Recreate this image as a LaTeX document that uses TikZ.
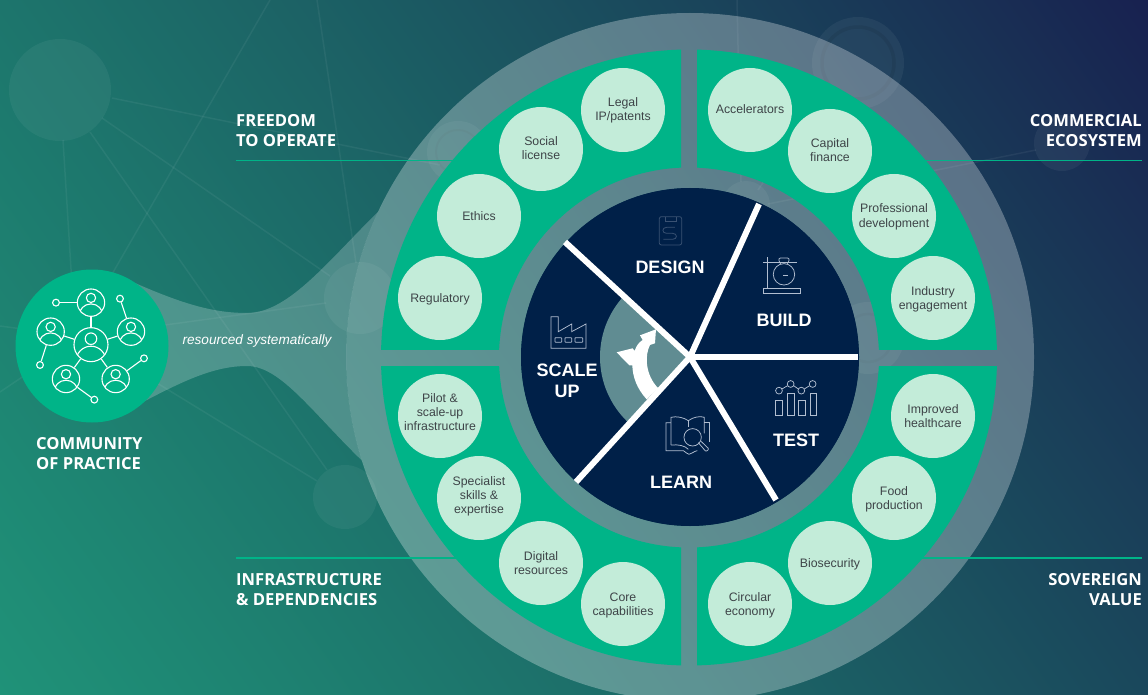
\documentclass[tikz,border=0pt]{standalone}
\usepackage{fontspec}
\setmainfont{Liberation Sans}
\newfontfamily\headfont{Open Sans}
\definecolor{mint}{RGB}{0,180,136}
\definecolor{pale}{RGB}{195,236,217}
\definecolor{navy}{RGB}{0,32,72}
\definecolor{ink}{RGB}{62,68,72}
\definecolor{wedgec}{RGB}{96,140,146}
\definecolor{iconc}{RGB}{178,190,208}
\definecolor{icondim}{RGB}{58,82,115}
\pgfdeclarefunctionalshading{bgmix}{\pgfpointorigin}{\pgfpoint{100bp}{100bp}}{}{
 25 sub 0.006 mul exch 25 sub 0.014 mul add
 dup dup 0.0275 mul neg 0.1216 add
 3 1 roll
 dup 0.1569 mul neg 0.4706 add
 3 1 roll
 dup mul 0.0902 mul exch 0.3529 mul add neg 0.5725 add
 exch
}
\newcommand\bt[2][-1.2pt]{\raisebox{#1}[\height][\depth]{\begin{tabular}{@{}c@{}}#2\end{tabular}}}
\tikzset{
 bub/.style={circle,fill=pale,minimum size=84pt,inner sep=0pt,text=ink,font=\fontsize{12.3}{14}\selectfont},
 headl/.style={align=left,anchor=west,text=white,font=\headfont\bfseries\fontsize{16.6}{20}\selectfont},
 headr/.style={align=right,anchor=east,text=white,font=\headfont\bfseries\fontsize{16.6}{20}\selectfont},
 phase/.style={align=center,text=white,font=\bfseries\fontsize{18}{21}\selectfont},
 rule/.style={draw=mint,line width=1.8pt},
 net/.style={draw=white,draw opacity=.055,line width=1.5pt},
 blob/.style={fill=white,fill opacity=.05},
 icon/.style={draw=iconc,line width=.75pt},
 dimicon/.style={draw=icondim,line width=.75pt},
 divider/.style={draw=white,line width=6pt},
 pers/.style={circle,draw=white,line width=1.1pt,inner sep=0pt},
 dot/.style={circle,draw=white,line width=1.1pt,inner sep=0pt,minimum size=6.8pt},
 tie/.style={draw=white,line width=1.1pt},
}
\newcommand\person[4]{%
 \node[pers,minimum size={#4*0.6667pt}] (#1) at (#2,#3) {};
 \draw[white,line width=1.1pt] (#2,#3-0.35*#4) circle ({#4*0.113pt});
 \begin{scope}
  \clip (#2,#3) circle ({#4*0.3333pt});
  \draw[white,line width=1.1pt] (#2,#3+0.97*#4) circle ({#4*0.293pt});
 \end{scope}
}
\begin{document}
\begin{tikzpicture}[x=1pt,y=-1pt]
\useasboundingbox (0,0) rectangle (1148,695);
\clip (0,0) rectangle (1148,695);
\shade[shading=bgmix] (0,0) rectangle (1148,695);
\coordinate (hub) at (690,357);
% background network
\draw[net] (112,98) -- (440,165);
\draw[net] (102,118) -- (330,276);
\draw[net] (63,140) -- (72,285);
\draw[net] (90,132) -- (327,470);
\draw[net] (270,0) -- (100,295);
\draw[net] (317,0) -- (356,263);
\draw[net] (0,326) -- (30,330);
\draw[net] (0,392) -- (40,365);
\draw[net] (157,383) -- (317,481);
\draw[net] (165,325) -- (326,303);
\draw[net] (737,0) -- (741,182);
\draw[net] (768,204) -- (1036,150);
\draw[net] (758,190) -- (775,165);
\fill[blob] (60,90) circle (51pt);
\fill[blob] (360,298) circle (36pt);
\fill[blob] (345,497) circle (32pt);
\fill[blob] (1062,143) circle (28pt);
\fill[blob] (746,205) circle (24pt);
\fill[blob] (458,152) circle (31pt);
\draw[draw=black,draw opacity=.05,line width=2pt] (458,152) circle (22pt);
\fill[blob] (858,63) circle (46pt);
\draw[draw=black,draw opacity=.07,line width=3.5pt] (858,63) circle (36pt);
\fill[blob] (868,338) circle (36pt);
\draw[draw=black,draw opacity=.06,line width=2.5pt] (868,338) circle (24pt);
% funnel, stopping at the ring's outer edge
\begin{scope}[even odd rule]
 \clip (0,0) rectangle (1148,695) (hub) circle (344pt);
 \fill[white,fill opacity=.22,nonzero rule] (135,283) .. controls (185,305) and (215,313) .. (247,313)
  .. controls (290,313) and (330,258) .. (385,205) -- (430,205) -- (430,510) -- (385,482)
  .. controls (320,425) and (285,366) .. (247,366)
  .. controls (215,366) and (185,380) .. (143,402) -- cycle;
\end{scope}
% ring
\fill[white,fill opacity=.29,even odd rule] (hub) circle (344pt) (hub) circle (169pt);
% rules
\coordinate (r1a) at (236,160.5); \coordinate (r1b) at (470,160.5);
\coordinate (r2a) at (1142,160.5); \coordinate (r2b) at (905,160.5);
\coordinate (r3a) at (236,558); \coordinate (r3b) at (470,558);
\coordinate (r4a) at (1142,558); \coordinate (r4b) at (905,558);
\draw[rule] (r1a) -- (r1b);
\draw[rule] (r2a) -- (r2b);
\draw[rule] (r3a) -- (r3b);
\draw[rule] (r4a) -- (r4b);
% green quadrants
\begin{scope}\clip (300,0) rectangle (681,349);
 \fill[mint,even odd rule] (689,357.5) circle (308pt) (689,357.5) circle (190pt);\end{scope}
\begin{scope}\clip (697,0) rectangle (1100,349);
 \fill[mint,even odd rule] (689,357.5) circle (308pt) (689,357.5) circle (190pt);\end{scope}
\begin{scope}\clip (300,366) rectangle (681,720);
 \fill[mint,even odd rule] (689,357.5) circle (308pt) (689,357.5) circle (190pt);\end{scope}
\begin{scope}\clip (697,366) rectangle (1100,720);
 \fill[mint,even odd rule] (689,357.5) circle (308pt) (689,357.5) circle (190pt);\end{scope}
% bubbles
\node[bub] (b1) at (623,110) {\bt{Legal\\IP/patents}};
\node[bub] (b2) at (541,149) {\bt{Social\\license}};
\node[bub] (b3) at (479,216) {\bt{Ethics}};
\node[bub] (b4) at (440,298) {\bt{Regulatory}};
\node[bub] (b5) at (750,110) {\bt{Accelerators}};
\node[bub] (b6) at (830,151) {\bt{Capital\\finance}};
\node[bub] (b7) at (894,216) {\bt{Professional\\development}};
\node[bub] (b8) at (933,298) {\bt{Industry\\engagement}};
\node[bub] (b9) at (440,416) {\bt[2pt]{Pilot \&\\scale-up\\infrastructure}};
\node[bub] (b10) at (479,498) {\bt[1.5pt]{Specialist\\skills \&\\expertise}};
\node[bub] (b11) at (541,563) {\bt{Digital\\resources}};
\node[bub] (b12) at (623,604) {\bt{Core\\capabilities}};
\node[bub] (b13) at (933,416) {\bt{Improved\\healthcare}};
\node[bub] (b14) at (894,498) {\bt{Food\\production}};
\node[bub] (b15) at (830,563) {\bt{Biosecurity}};
\node[bub] (b16) at (750,604) {\bt{Circular\\economy}};
% central disc
\fill[navy] (hub) circle (169pt);
\begin{scope}
 \clip (hub) -- (565,242) -- (480,242) -- (480,482) -- (576,482) -- cycle;
 \fill[wedgec] (hub) circle (90pt);
\end{scope}
\coordinate (d1) at (565,242);
\coordinate (d2) at (759,204);
\coordinate (d3) at (858,357);
\coordinate (d4) at (776,500);
\coordinate (d5) at (576,482);
\draw[divider] (hub) -- (d1);
\draw[divider] (hub) -- (d2);
\draw[divider] (hub) -- (d3);
\draw[divider] (hub) -- (d4);
\draw[divider] (hub) -- (d5);
\node[phase] (design) at (670,267) {DESIGN};
\node[phase] (build) at (784,320) {BUILD};
\node[phase] (testl) at (796,440) {TEST};
\node[phase] (learn) at (681,482) {LEARN};
\node[phase] (scale) at (567,380.5) {SCALE\\UP};
% zoom-coordinate icons
\begin{scope}[shift={(490,180)},x=.3333pt,y=-.3333pt]
 % arrow
 \fill[white] (498,448) -- (495,490) -- (480,495) .. controls (464,525) and (465,585) .. (505,625)
  -- (470,658) .. controls (440,625) and (428,590) .. (427,556) -- (418,556) -- (380,517)
  -- (428,505) -- (434,513) .. controls (438,500) and (445,488) .. (458,480) -- (450,466) -- cycle;
 % factory
 \draw[icon] (183,410) -- (205,410) -- (205,455) -- (245,432) -- (245,455) -- (288,432) -- (288,505) -- (183,505) -- cycle;
 \draw[icon,rounded corners=.6pt] (195,473) rectangle (215,487) (225,473) rectangle (245,487) (255,473) rectangle (278,487);
 % design document
 \draw[dimicon,rounded corners=2pt] (508,110) rectangle (575,195);
 \draw[dimicon] (525,110) -- (525,125) -- (558,125) -- (558,110);
 \draw[dimicon] (555,142) -- (530,142) .. controls (515,142) and (515,160) .. (530,160) -- (548,160) .. controls (563,160) and (563,178) .. (548,178) -- (520,178);
 % flask
 \draw[icon] (820,325) rectangle (930,340);
 \draw[icon] (833,232) -- (833,325) (820,248) -- (920,248);
 \draw[icon] (882,283) circle (10.7pt);
 \draw[icon,rounded corners=1pt] (872,252) -- (866,240) -- (868,234) -- (896,234) -- (898,240) -- (892,252);
 \draw[icon] (880,287) -- (893,287);
 % chart
 \draw[icon] (857,660) rectangle (877,705) (892,640) rectangle (912,705) (925,660) rectangle (945,705) (960,640) rectangle (978,705);
 \draw[icon] (867,632) circle (3.4pt) (902,612) circle (3.4pt) (934,632) circle (3.4pt) (968,612) circle (3.4pt);
 \draw[icon] (876,627) -- (893,617) (911,617) -- (925,627) (943,627) -- (959,617);
 % book
 \draw[icon] (543,728) -- (528,728) -- (528,812) -- (580,812) .. controls (588,815) and (590,823) .. (597,823) .. controls (605,823) and (610,814) .. (622,812);
 \draw[icon] (643,728) -- (658,728) -- (658,785);
 \draw[icon] (543,795) -- (543,712) .. controls (560,708) and (580,712) .. (595,722) .. controls (612,710) and (630,708) .. (643,712) -- (643,760);
 \draw[icon] (543,795) .. controls (565,793) and (585,797) .. (595,808);
 \draw[icon] (595,722) -- (595,742);
 \draw[icon] (608,772) circle (8.7pt);
 \draw[icon,rounded corners=1pt] (625,788) -- (648,815) -- (657,807) -- (632,783);
\end{scope}
% community
\node[circle,fill=mint,minimum size=153pt,inner sep=0pt] (comm) at (92,346) {};
\begin{scope}[shift={(0,250)},x=.3333pt,y=-.3333pt]
 \person{p0}{273}{284}{51}
 \person{p1}{273}{158}{41}
 \person{p2}{152}{245}{41}
 \person{p3}{393}{245}{41}
 \person{p4}{198}{387}{41}
 \person{p5}{347}{387}{41}
 \node[dot] (s1) at (168,158) {};
 \node[dot] (s2) at (360,146) {};
 \node[dot] (s3) at (120,345) {};
 \node[dot] (s4) at (432,325) {};
 \node[dot] (s5) at (283,449) {};
\end{scope}
\draw[tie] (p0) -- (p1);
\draw[tie] (p0) -- (p2);
\draw[tie] (p0) -- (p3);
\draw[tie] (p0) -- (p4);
\draw[tie] (p0) -- (p5);
\draw[tie] (s1) -- (p1);
\draw[tie] (s2) -- (p3);
\draw[tie] (s3) -- (p2);
\draw[tie] (s4) -- (p5);
\draw[tie] (s5) -- (p4);
% labels
\node[headl,inner sep=0pt] (lab1) at (236,130.5) {FREEDOM\\TO OPERATE};
\node[headr,inner sep=0pt] (lab2) at (1142,130.5) {COMMERCIAL\\ECOSYSTEM};
\node[headl,inner sep=0pt] (lab3) at (236,590) {INFRASTRUCTURE\\\& DEPENDENCIES};
\node[headr,inner sep=0pt] (lab4) at (1142,590) {SOVEREIGN\\VALUE};
\node[headl,inner sep=0pt] (lab5) at (36,454) {COMMUNITY\\OF PRACTICE};
\node[text=white,inner sep=0pt,font=\itshape\fontsize{13.6}{16}\selectfont] (res) at (257,341) {resourced systematically};
\end{tikzpicture}
\end{document}
